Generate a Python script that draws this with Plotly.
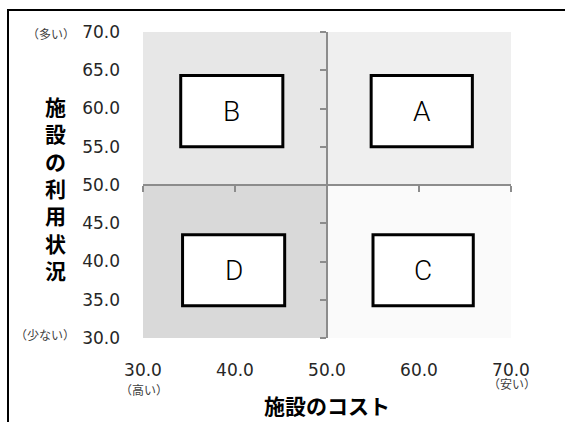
import plotly.graph_objects as go

# ---- data ----
x_range = [30, 70]
y_range = [30, 70]
x_ticks = [30, 40, 50, 60, 70]
y_ticks = [30, 35, 40, 45, 50, 55, 60, 65, 70]
x_tick_labels = ["30.0", "40.0", "50.0", "60.0", "70.0"]
y_tick_labels = ["30.0", "35.0", "40.0", "45.0", "50.0", "55.0", "60.0", "65.0", "70.0"]

quadrant_names = ["B", "A", "D", "C"]
quadrant_x0 = [30, 50, 30, 50]
quadrant_x1 = [50, 70, 50, 70]
quadrant_y0 = [50, 50, 30, 30]
quadrant_y1 = [70, 70, 50, 50]
quadrant_colors = ["#e7e7e7", "#efefef", "#d9d9d9", "#fafafa"]

box_labels = ["B", "A", "D", "C"]
box_x0 = [34.1, 54.8, 34.3, 55.0]
box_x1 = [45.2, 65.8, 45.4, 65.9]
box_y0 = [55.0, 55.0, 34.2, 34.2]
box_y1 = [64.3, 64.3, 43.5, 43.5]

x_title = "施設のコスト"
y_title = "施設の利用状況"
y_high_note = "（多い）"
y_low_note = "（少ない）"
x_low_note = "（高い）"
x_high_note = "（安い）"

# ---- layout geometry (pixels) ----
W, H = 565, 422
L, R, T, B = 143, 54, 32, 84
pw, ph = W - L - R, H - T - B


def px(xp):
    return (xp - L) / pw


def py(yp):
    return (H - B - yp) / ph


JP = "Noto Sans CJK JP"
NUM = "DejaVu Sans"
TXT = "#262626"

fig = go.Figure()
fig.add_trace(go.Scatter(x=x_range, y=y_range, mode="markers",
                         marker=dict(opacity=0), hoverinfo="skip", showlegend=False))
fig.add_trace(go.Scatter(x=x_range, y=y_range, mode="markers", xaxis="x2", yaxis="y2",
                         marker=dict(opacity=0), hoverinfo="skip", showlegend=False))

shapes = []
for i in range(len(quadrant_names)):
    shapes.append(dict(type="rect", xref="x", yref="y", layer="below",
                       x0=quadrant_x0[i], x1=quadrant_x1[i],
                       y0=quadrant_y0[i], y1=quadrant_y1[i],
                       fillcolor=quadrant_colors[i], line=dict(width=0)))
for i in range(len(box_labels)):
    shapes.append(dict(type="rect", xref="x", yref="y", layer="above",
                       x0=box_x0[i], x1=box_x1[i], y0=box_y0[i], y1=box_y1[i],
                       fillcolor="white", line=dict(color="black", width=3)))
shapes.append(dict(type="rect", xref="paper", yref="paper",
                   x0=px(8), x1=px(W + 20), y0=py(H + 20), y1=py(10),
                   line=dict(color="black", width=2), fillcolor="rgba(0,0,0,0)"))

annotations = []
for i in range(len(box_labels)):
    annotations.append(dict(x=(box_x0[i] + box_x1[i]) / 2, y=(box_y0[i] + box_y1[i]) / 2,
                            xref="x", yref="y", text=box_labels[i], showarrow=False,
                            xanchor="center", yanchor="middle",
                            font=dict(family="Roboto", size=28, weight=300, color="black")))
note_font = dict(family=JP, size=12, color="#404040")
annotations += [
    dict(x=px(55), y=py(188), xref="paper", yref="paper", showarrow=False,
         xanchor="center", yanchor="middle",
         text="<br>".join("<b>" + c + "</b>" for c in y_title),
         font=dict(family=JP, size=21, color="black"), align="center"),
    dict(x=px(327), y=py(405), xref="paper", yref="paper", showarrow=False,
         xanchor="center", yanchor="middle",
         text="<b>" + x_title + "</b>", font=dict(family=JP, size=21, color="black")),
    dict(x=px(77), y=py(33), xref="paper", yref="paper", xanchor="right", yanchor="middle",
         showarrow=False, text=y_high_note, font=note_font),
    dict(x=px(77), y=py(334), xref="paper", yref="paper", xanchor="right", yanchor="middle",
         showarrow=False, text=y_low_note, font=note_font),
    dict(x=px(144), y=py(389), xref="paper", yref="paper", xanchor="center", yanchor="middle",
         showarrow=False, text=x_low_note, font=note_font),
    dict(x=px(512), y=py(383), xref="paper", yref="paper", xanchor="center", yanchor="middle",
         showarrow=False, text=x_high_note, font=note_font),
]

fig.update_layout(
    width=W, height=H,
    margin=dict(l=L, r=R, t=T, b=B, pad=0, autoexpand=False),
    paper_bgcolor="white", plot_bgcolor="white",
    showlegend=False,
    shapes=shapes, annotations=annotations,
    xaxis=dict(range=x_range, tickvals=x_ticks, ticktext=x_tick_labels,
               showgrid=False, zeroline=False, showline=False, ticks="",
               ticklabelstandoff=20, automargin=False,
               tickfont=dict(family=NUM, size=17, color=TXT), fixedrange=True),
    yaxis=dict(range=y_range, tickvals=y_ticks, ticktext=y_tick_labels,
               showgrid=False, zeroline=False, showline=False, ticks="",
               ticklabelstandoff=22, automargin=False,
               tickfont=dict(family=NUM, size=17, color=TXT), fixedrange=True),
    xaxis2=dict(range=x_range, tickvals=x_ticks, overlaying="x", anchor="free",
                position=0.5, side="bottom", showticklabels=False,
                showline=True, linecolor="#8c8c8c", linewidth=1.5,
                ticks="outside", ticklen=6, tickwidth=1.5, tickcolor="#8c8c8c",
                showgrid=False, zeroline=False, fixedrange=True),
    yaxis2=dict(range=y_range, tickvals=y_ticks, overlaying="y", anchor="free",
                position=0.5, side="left", showticklabels=False,
                showline=True, linecolor="#8c8c8c", linewidth=1.5,
                ticks="outside", ticklen=6, tickwidth=1.5, tickcolor="#8c8c8c",
                showgrid=False, zeroline=False, fixedrange=True),
)

fig.write_html("out.html", config={"displayModeBar": False},
               post_script="document.body.style.margin='0px';document.body.style.overflow='hidden';")
